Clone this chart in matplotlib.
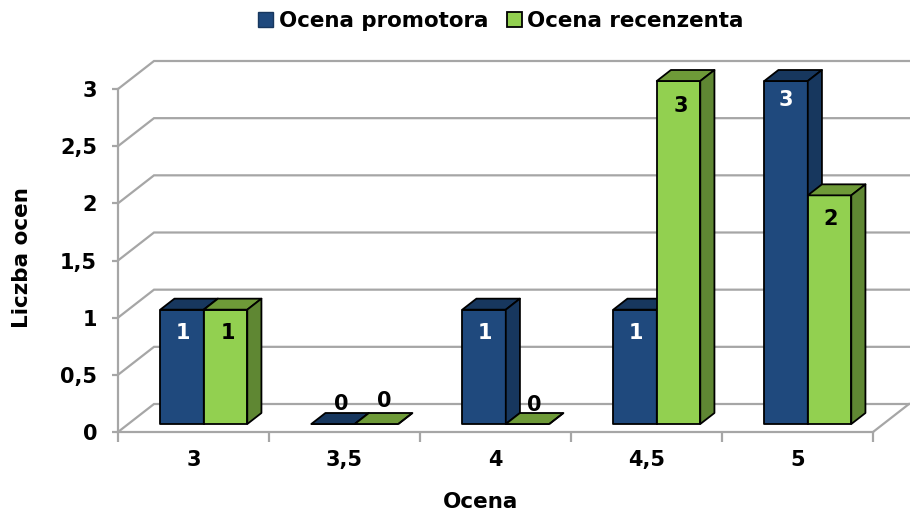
import matplotlib
matplotlib.use('Agg')
import matplotlib.pyplot as plt
from matplotlib.patches import Patch, Polygon

categories = ['3', '3,5', '4', '4,5', '5']
promotor = [1, 0, 1, 1, 3]
recenzent = [1, 0, 0, 3, 2]
y_ticks = [0, 0.5, 1, 1.5, 2, 2.5, 3]
y_labels = ['0', '0,5', '1', '1,5', '2', '2,5', '3']

# label offsets from the bar top, pixels (x, y)
promotor_off = [(1, -23), (8, 20), (1, -23), (1, -23), (0, -19)]
recenzent_off = [(2, -23), (8, 23), (7, 19), (2, -25), (1, -24)]

BLUE = ('#1F497D', '#17375E', '#17375E')
GREEN = ('#92D050', '#6E9A38', '#5F8733')
GRID = '#A6A6A6'
FS = 15

W, H = 910, 511
fig = plt.figure(figsize=(W / 100, H / 100), dpi=100)
left, right, top, bottom = 118, 873, 89, 432
ax = fig.add_axes([left / W, 1 - bottom / H, (right - left) / W, (bottom - top) / H])
ax.set_xlim(0, len(categories))
ax.set_ylim(0, 3)
ax.patch.set_visible(False)

# oblique depth, full depth of the box in data units
DX = 36 / (right - left) * len(categories)
DY = 28 / (bottom - top) * 3
BAR_W = 43.5 / 151
D_FRONT = 8 / 28
D_BACK = 19 / 28


def proj(x, y, d):
    return x + d * DX, y + d * DY


def draw_bar(x0, val, colors, z):
    x1 = x0 + BAR_W
    faces = [
        ([proj(x0, 0, D_FRONT), proj(x1, 0, D_FRONT), proj(x1, val, D_FRONT), proj(x0, val, D_FRONT)], colors[0]),
        ([proj(x0, val, D_FRONT), proj(x1, val, D_FRONT), proj(x1, val, D_BACK), proj(x0, val, D_BACK)], colors[1]),
        ([proj(x1, 0, D_FRONT), proj(x1, 0, D_BACK), proj(x1, val, D_BACK), proj(x1, val, D_FRONT)], colors[2]),
    ]
    for pts, c in faces:
        ax.add_patch(Polygon(pts, closed=True, fc=c, ec='black', lw=1.3, joinstyle='round',
                             zorder=z, clip_on=False))


# side wall, back wall gridlines and floor edge
for v in y_ticks:
    ax.plot([0, DX, len(categories) + DX], [v, v + DY, v + DY], color=GRID, lw=1.6,
            clip_on=False, zorder=1, solid_joinstyle='miter')
ax.plot([len(categories), len(categories) + DX], [0, DY], color=GRID, lw=1.6, clip_on=False, zorder=1)

for s in ['top', 'right']:
    ax.spines[s].set_visible(False)
for s in ['left', 'bottom']:
    ax.spines[s].set_color(GRID)
    ax.spines[s].set_linewidth(1.6)

ax.set_yticks(y_ticks)
ax.set_yticklabels(y_labels, fontsize=FS, fontweight='bold')
ax.set_xticks(range(len(categories) + 1))
ax.set_xticklabels([])
ax.set_xticks([i + 0.5 for i in range(len(categories))], minor=True)
ax.set_xticklabels(categories, minor=True, fontsize=FS, fontweight='bold')
ax.tick_params(axis='x', which='major', length=7, width=1.6, color=GRID)
ax.tick_params(axis='x', which='minor', length=0, pad=13)
ax.tick_params(axis='y', length=4, width=1.6, color=GRID, pad=11)

for i in range(len(categories)):
    x_b = i + 0.5 - BAR_W
    x_g = i + 0.5
    draw_bar(x_b, promotor[i], BLUE, 3 + i)
    draw_bar(x_g, recenzent[i], GREEN, 3 + i)
    for x0, val, off, c in [(x_b, promotor[i], promotor_off[i], 'white' if promotor[i] else 'black'),
                            (x_g, recenzent[i], recenzent_off[i], 'black')]:
        px, py = proj(x0 + BAR_W / 2, val, D_FRONT)
        ax.annotate(str(val), (px, py), xytext=(off[0] * 0.72, off[1] * 0.72),
                    textcoords='offset points', ha='center', va='center', color=c,
                    fontsize=FS, fontweight='bold', zorder=20, annotation_clip=False)

fig.text(22 / W, 1 - 258 / H, 'Liczba ocen', rotation=90, ha='center', va='center',
         fontsize=15.5, fontweight='bold')
fig.text(481 / W, 1 - 502 / H, 'Ocena', ha='center', va='center',
         fontsize=15.5, fontweight='bold')

handles = [Patch(fc=BLUE[0], ec=BLUE[1], lw=1, label='Ocena promotora'),
           Patch(fc=GREEN[0], ec='black', lw=1.3, label='Ocena recenzenta')]
fig.legend(handles=handles, loc='center', bbox_to_anchor=(501 / W, 1 - 21 / H), ncol=2, frameon=False,
           prop={'size': 15.4, 'weight': 'bold'}, handlelength=0.7, handleheight=0.7,
           handletextpad=0.25, columnspacing=0.9)

fig.savefig('out.png', dpi=100)
